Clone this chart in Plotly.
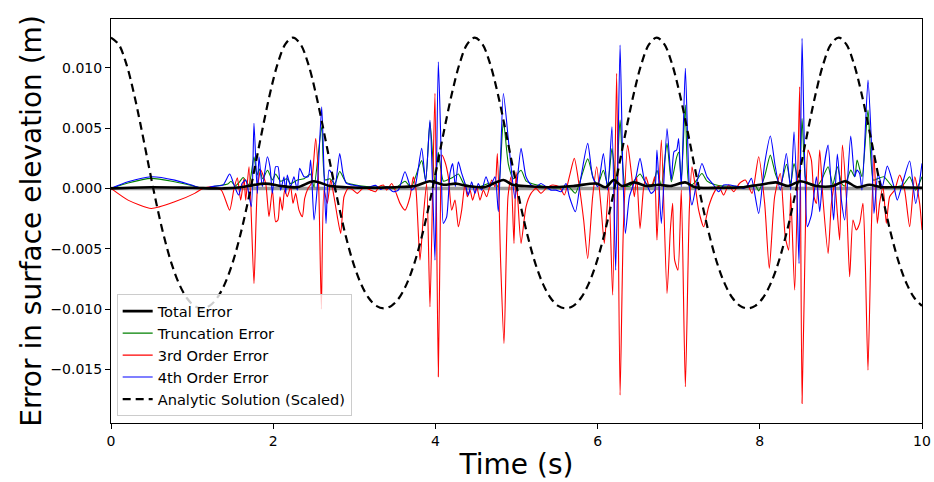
import numpy as np
import plotly.graph_objects as go

# ---------------- data ----------------
t_red = [0.000, 0.210, 0.497, 0.785, 1.032, 1.134, 1.237, 1.360, 1.463, 1.517, 1.558, 1.599, 1.640, 1.661, 1.702, 1.763, 1.804, 1.846, 1.907, 1.948, 1.990, 2.030, 2.059, 2.084, 2.113, 2.141, 2.174, 2.215, 2.244, 2.277, 2.318, 2.359, 2.388, 2.429, 2.470, 2.524, 2.561, 2.594, 2.626, 2.667, 2.709, 2.750, 2.791, 2.832, 2.873, 2.922, 2.976, 3.037, 3.120, 3.202, 3.263, 3.304, 3.358, 3.399, 3.461, 3.502, 3.564, 3.625, 3.687, 3.728, 3.761, 3.810, 3.851, 3.892, 3.933, 3.966, 3.995, 4.036, 4.061, 4.081, 4.118, 4.159, 4.201, 4.242, 4.283, 4.324, 4.365, 4.394, 4.427, 4.459, 4.509, 4.550, 4.591, 4.632, 4.694, 4.735, 4.764, 4.805, 4.846, 4.895, 4.932, 4.969, 4.994, 5.014, 5.056, 5.117, 5.179, 5.240, 5.302, 5.364, 5.446, 5.528, 5.590, 5.652, 5.713, 5.775, 5.828, 5.878, 5.939, 5.989, 6.042, 6.083, 6.137, 6.186, 6.235, 6.277, 6.317, 6.371, 6.412, 6.453, 6.482, 6.523, 6.564, 6.597, 6.638, 6.679, 6.704, 6.732, 6.786, 6.856, 6.897, 6.925, 6.950, 6.991, 7.032, 7.082, 7.131, 7.164, 7.205, 7.246, 7.308, 7.369, 7.431, 7.493, 7.554, 7.616, 7.678, 7.748, 7.822, 7.904, 7.986, 8.060, 8.117, 8.183, 8.253, 8.314, 8.356, 8.381, 8.430, 8.471, 8.492, 8.521, 8.562, 8.594, 8.636, 8.669, 8.698, 8.739, 8.780, 8.842, 8.883, 8.924, 8.956, 8.985, 9.018, 9.067, 9.108, 9.149, 9.190, 9.231, 9.272, 9.301, 9.334, 9.375, 9.408, 9.449, 9.477, 9.519, 9.560, 9.601, 9.663, 9.724, 9.786, 9.848, 9.910, 9.971, 10.000]
e_third = [0.0, -0.00097, -0.00166, -0.00111, -0.00041, 0.0, 0.00014, -0.00014, -0.00180, 0.0, 0.00088, -0.00097, 0.00083, -0.00097, 0.00180, -0.00787, -0.00014, 0.00152, 0.00041, -0.00235, -0.00014, -0.00276, -0.00262, -0.00069, -0.00180, -0.00014, -0.00069, 0.00014, -0.00124, -0.00041, -0.00180, -0.00235, -0.00083, 0.0, 0.00041, 0.00414, 0.00014, -0.01000, -0.00014, -0.00124, 0.00069, -0.00069, -0.00235, -0.00373, -0.00069, 0.0, -0.00008, -0.00041, 0.00008, -0.00014, -0.00028, 0.00014, 0.00028, -0.00014, 0.00041, -0.00014, -0.00124, -0.00180, -0.00069, 0.00097, -0.00014, -0.00594, -0.00235, 0.00041, -0.00981, -0.00014, 0.00787, -0.01561, -0.00235, 0.00276, 0.00221, 0.00097, -0.00180, -0.00097, -0.00318, -0.00180, 0.00041, -0.00069, -0.00014, -0.00097, 0.00014, -0.00097, -0.00014, -0.00069, 0.00069, 0.00014, 0.00290, -0.00622, -0.01285, -0.00069, 0.00097, -0.00456, 0.00138, -0.00069, -0.00456, -0.00152, -0.00041, 0.0, -0.00041, 0.0, 0.00028, 0.00014, -0.00055, 0.00097, 0.00249, 0.00014, -0.00262, -0.00580, -0.00069, 0.00180, -0.00152, -0.00456, 0.00014, -0.00884, 0.00953, -0.01713, -0.00345, 0.00359, 0.00152, -0.00069, 0.00097, -0.00332, -0.00014, 0.00097, 0.00014, 0.00041, 0.00097, -0.00428, 0.00401, -0.00870, -0.00345, -0.00124, -0.00594, -0.00677, -0.00014, -0.01644, -0.00180, 0.00180, 0.00014, -0.00180, -0.00318, -0.00152, -0.00041, 0.00019, -0.00055, 0.00028, -0.00028, 0.00041, 0.00069, -0.00041, 0.00262, -0.00124, -0.00663, -0.00069, 0.00124, -0.00401, -0.00511, -0.00041, -0.00843, 0.00207, 0.00843, -0.01782, -0.00345, 0.00318, 0.00235, -0.00069, -0.00124, 0.00318, -0.00097, -0.00539, -0.00124, 0.00041, -0.00207, -0.00428, 0.00359, -0.00069, -0.00732, -0.00262, -0.00345, -0.00290, -0.00124, -0.00622, -0.01506, -0.00345, 0.00276, -0.00290, -0.00124, 0.00014, -0.00290, -0.00069, -0.00014, 0.00111, -0.00014, -0.00318, 0.00097, -0.00124, -0.00345]

t_blue = [0.000, 0.210, 0.497, 0.785, 0.990, 1.134, 1.278, 1.381, 1.463, 1.525, 1.574, 1.615, 1.661, 1.730, 1.763, 1.804, 1.825, 1.866, 1.928, 1.960, 1.990, 2.030, 2.059, 2.092, 2.133, 2.154, 2.174, 2.215, 2.256, 2.297, 2.326, 2.380, 2.433, 2.462, 2.503, 2.544, 2.598, 2.626, 2.651, 2.688, 2.721, 2.758, 2.820, 2.861, 2.902, 2.976, 3.058, 3.161, 3.263, 3.325, 3.399, 3.481, 3.543, 3.625, 3.708, 3.749, 3.831, 3.880, 3.933, 3.966, 3.995, 4.036, 4.069, 4.098, 4.139, 4.180, 4.213, 4.246, 4.283, 4.324, 4.365, 4.406, 4.447, 4.488, 4.529, 4.571, 4.624, 4.673, 4.735, 4.776, 4.838, 4.900, 4.941, 4.982, 5.056, 5.117, 5.179, 5.240, 5.302, 5.364, 5.425, 5.487, 5.549, 5.610, 5.652, 5.726, 5.796, 5.878, 5.939, 6.001, 6.071, 6.124, 6.177, 6.223, 6.277, 6.309, 6.342, 6.392, 6.433, 6.474, 6.523, 6.577, 6.618, 6.659, 6.704, 6.732, 6.786, 6.856, 6.909, 6.942, 6.975, 6.999, 7.032, 7.082, 7.131, 7.164, 7.213, 7.287, 7.349, 7.431, 7.493, 7.554, 7.637, 7.698, 7.748, 7.801, 7.842, 7.896, 7.986, 8.060, 8.130, 8.191, 8.253, 8.327, 8.381, 8.422, 8.459, 8.484, 8.521, 8.554, 8.586, 8.636, 8.698, 8.739, 8.780, 8.842, 8.883, 8.911, 8.956, 9.006, 9.047, 9.121, 9.170, 9.198, 9.231, 9.260, 9.334, 9.375, 9.408, 9.457, 9.510, 9.572, 9.654, 9.695, 9.765, 9.848, 9.922, 10.000]
e_fourth = [0.0, 0.00055, 0.00097, 0.00069, 0.00028, 0.0, 0.00019, 0.00028, 0.00119, 0.00014, -0.00055, 0.00041, 0.00069, -0.00152, 0.00539, -0.00041, 0.00262, 0.00014, 0.00262, 0.00180, -0.00041, 0.00180, 0.00180, -0.00014, 0.00097, -0.00041, 0.00111, 0.00014, 0.00097, -0.00014, 0.00166, 0.00097, 0.00097, 0.00235, -0.00262, 0.00014, 0.00677, 0.00152, -0.00290, 0.00152, 0.00124, -0.00014, 0.00290, 0.00124, 0.00041, 0.00028, 0.00019, 0.00008, 0.00025, -0.00008, 0.00014, -0.00028, -0.00014, 0.00138, -0.00014, 0.00014, 0.00332, 0.00055, 0.00566, 0.00014, -0.00594, 0.01050, 0.00345, -0.00290, -0.00235, 0.00124, 0.00207, 0.00014, 0.00221, 0.00124, 0.00041, -0.00055, 0.00055, -0.00041, 0.00041, -0.00014, 0.00097, 0.00014, 0.00097, -0.00193, 0.00787, 0.00401, 0.00124, -0.00083, 0.00332, 0.00097, 0.00028, 0.00014, 0.00041, 0.00014, -0.00014, -0.00014, -0.00028, 0.00041, -0.00069, -0.00193, 0.00097, 0.00373, 0.00097, 0.00014, 0.00290, -0.00014, 0.00511, -0.00677, 0.01188, 0.00207, -0.00373, -0.00069, 0.00014, 0.00097, 0.00249, 0.00069, 0.00014, -0.00041, -0.00014, 0.00318, -0.00290, 0.00497, 0.00069, 0.00304, 0.00318, 0.00414, 0.00014, 0.00995, 0.00014, -0.00138, 0.00014, 0.00207, 0.00097, 0.00028, -0.00028, 0.00028, 0.00028, 0.00019, 0.00014, 0.0, 0.00019, 0.00083, -0.00207, 0.00207, 0.00434, 0.00180, -0.00014, 0.00290, -0.00014, 0.00470, -0.00069, -0.00622, 0.01243, 0.00207, -0.00318, -0.00221, 0.00097, -0.00193, 0.00124, 0.00359, -0.00014, -0.00262, 0.00285, -0.00097, -0.00262, 0.00434, 0.00097, 0.00152, 0.00124, -0.00014, 0.00898, 0.00401, -0.00207, 0.00124, 0.00014, 0.00185, 0.00014, -0.00097, 0.00055, 0.00227, -0.00124, 0.00207]

t_green = [0.000, 0.210, 0.497, 0.785, 0.990, 1.134, 1.300, 1.440, 1.480, 1.530, 1.580, 1.630, 1.700, 1.763, 1.800, 1.830, 1.870, 1.930, 1.990, 2.030, 2.090, 2.170, 2.215, 2.300, 2.380, 2.460, 2.503, 2.598, 2.640, 2.700, 2.760, 2.820, 2.900, 3.000, 3.150, 3.300, 3.400, 3.500, 3.625, 3.700, 3.830, 3.880, 3.933, 3.995, 4.036, 4.100, 4.180, 4.213, 4.283, 4.350, 4.450, 4.550, 4.650, 4.735, 4.776, 4.838, 4.900, 4.960, 5.056, 5.120, 5.240, 5.400, 5.550, 5.650, 5.726, 5.878, 5.950, 6.000, 6.071, 6.124, 6.177, 6.230, 6.277, 6.342, 6.400, 6.523, 6.600, 6.680, 6.732, 6.786, 6.856, 6.909, 6.975, 7.000, 7.032, 7.082, 7.131, 7.200, 7.287, 7.350, 7.450, 7.550, 7.650, 7.750, 7.850, 7.940, 7.986, 8.060, 8.130, 8.191, 8.253, 8.330, 8.381, 8.422, 8.484, 8.521, 8.560, 8.594, 8.698, 8.760, 8.842, 8.900, 8.956, 9.010, 9.047, 9.121, 9.170, 9.200, 9.260, 9.334, 9.400, 9.450, 9.530, 9.640, 9.765, 9.848, 9.920, 10.000]
e_trunc = [0.0, 0.00045, 0.00083, 0.00055, 0.00025, 0.0, 0.00020, 0.00036, 0.00060, 0.00020, 0.00050, 0.00091, 0.00030, 0.00262, 0.00110, 0.00160, 0.00080, 0.00150, 0.00070, 0.00120, 0.00060, 0.00080, 0.00040, 0.00070, 0.00080, 0.00120, 0.00010, 0.00510, 0.00070, 0.00080, 0.00040, 0.00140, 0.00050, 0.00030, 0.00015, 0.00010, 0.00015, 0.0, 0.00060, 0.00010, 0.00230, 0.00070, 0.00550, 0.00040, 0.00300, 0.00060, 0.00080, 0.00090, 0.00120, 0.00040, 0.00020, 0.00015, 0.00040, 0.00050, 0.00010, 0.00560, 0.00200, 0.00080, 0.00150, 0.00060, 0.00030, 0.00010, 0.00005, 0.00010, -0.00040, 0.00245, 0.00080, 0.00030, 0.00150, 0.00030, 0.00330, 0.00040, 0.00566, 0.00020, 0.00020, 0.00120, 0.00040, 0.00030, 0.00150, 0.00020, 0.00373, 0.00055, 0.00260, 0.00300, 0.00070, 0.00691, 0.00014, 0.00050, 0.00124, 0.00060, 0.00030, 0.00020, 0.00020, 0.00015, 0.00020, 0.00030, -0.00020, 0.00100, 0.00276, 0.00124, 0.00030, 0.00200, 0.00040, 0.00207, 0.00040, 0.00580, 0.00100, 0.00041, 0.00014, 0.00069, 0.00180, 0.00030, 0.00180, 0.00041, 0.00020, 0.00152, 0.00097, 0.00235, 0.00097, 0.00649, 0.00069, 0.00080, 0.00097, 0.00014, 0.00028, 0.00097, -0.00014, 0.00097]

t_total = [0.0, 0.5, 1.0, 1.4, 1.6, 1.9, 2.1, 2.3, 2.5, 2.7, 2.9, 3.2, 3.5, 3.75, 3.93, 4.1, 4.25, 4.4, 4.6, 4.84, 4.95, 5.1, 5.4, 5.7, 5.99, 6.1, 6.2, 6.3, 6.45, 6.6, 6.75, 6.9, 7.08, 7.2, 7.5, 7.8, 8.0, 8.2, 8.35, 8.5, 8.7, 8.9, 9.05, 9.2, 9.35, 9.5, 9.7, 10.0]
e_total = [0.0, 0.0001, 0.00005, 0.0, 0.0001, 0.0004, 0.0002, 0.0001, 0.0006, 0.0002, 0.0001, 0.00005, 0.0001, 0.0002, 0.0006, 0.0003, 0.0004, 0.0002, 0.0001, 0.0007, 0.0003, 0.0002, 0.0001, 0.0002, 0.0004, 0.0001, 0.0007, 0.0002, 0.0005, 0.0002, 0.0003, 0.0002, 0.0005, 0.0001, 0.00005, 0.0001, 0.0003, 0.0005, 0.0002, 0.0006, 0.0002, 0.0002, 0.0006, 0.0001, 0.0003, 0.0001, 0.0001, 0.00005]

# analytic surface elevation (scaled), sampled evenly over 0..10 s
analytic = [0.01250, 0.01195, 0.01036, 0.00793, 0.00497, 0.00180, -0.00128, -0.00401, -0.00625, -0.00793, -0.00908, -0.00973,
            -0.00994, -0.00973, -0.00908, -0.00793, -0.00625, -0.00401, -0.00128, 0.00180, 0.00497, 0.00793, 0.01036, 0.01195,
            0.01250, 0.01195, 0.01036, 0.00793, 0.00497, 0.00180, -0.00128, -0.00401, -0.00625, -0.00793, -0.00908, -0.00973,
            -0.00994, -0.00973, -0.00908, -0.00793, -0.00625, -0.00401, -0.00128, 0.00180, 0.00497, 0.00793, 0.01036, 0.01195,
            0.01250, 0.01195, 0.01036, 0.00793, 0.00497, 0.00180, -0.00128, -0.00401, -0.00625, -0.00793, -0.00908, -0.00973,
            -0.00994, -0.00973, -0.00908, -0.00793, -0.00625, -0.00401, -0.00128, 0.00180, 0.00497, 0.00793, 0.01036, 0.01195,
            0.01250, 0.01195, 0.01036, 0.00793, 0.00497, 0.00180, -0.00128, -0.00401, -0.00625, -0.00793, -0.00908, -0.00973,
            -0.00994, -0.00973, -0.00908, -0.00793, -0.00625, -0.00401, -0.00128, 0.00180, 0.00497, 0.00793, 0.01036, 0.01195,
            0.01250, 0.01195, 0.01036, 0.00793, 0.00497, 0.00180, -0.00128, -0.00401, -0.00625, -0.00793, -0.00908, -0.00973]
t_analytic = np.linspace(0, 10, len(analytic))

x_ticks = [0, 2, 4, 6, 8, 10]
y_ticks = [-0.015, -0.010, -0.005, 0.000, 0.005, 0.010]
y_ticktext = ["\u22120.015", "\u22120.010", "\u22120.005", "0.000", "0.005", "0.010"]

# ---------------- figure ----------------
FONT = "DejaVu Sans, Arial, sans-serif"
fig = go.Figure()

sm = 0.6
fig.add_trace(go.Scatter(x=t_green, y=e_trunc, mode="lines", name="Truncation Error",
                         line=dict(color="#008000", width=1.1, shape="spline", smoothing=sm), legendrank=2))
fig.add_trace(go.Scatter(x=t_red, y=e_third, mode="lines", name="3rd Order Error",
                         line=dict(color="#ff0000", width=1.1, shape="spline", smoothing=sm), legendrank=3))
fig.add_trace(go.Scatter(x=t_blue, y=e_fourth, mode="lines", name="4th Order Error",
                         line=dict(color="#0000ff", width=1.1, shape="spline", smoothing=sm), legendrank=4))
fig.add_trace(go.Scatter(x=t_total, y=e_total, mode="lines", name="Total Error",
                         line=dict(color="black", width=2.6, shape="spline", smoothing=0.8), legendrank=1))
fig.add_trace(go.Scatter(x=t_analytic, y=analytic, mode="lines", name="Analytic Solution (Scaled)",
                         line=dict(color="black", width=2.2, dash="8px,5px", shape="spline", smoothing=1.0), legendrank=5))

fig.add_hline(y=0, line=dict(color="rgba(120,120,120,0.75)", width=3.5), layer="below")

axis_common = dict(showgrid=False, zeroline=False, showline=True, linecolor="black", linewidth=1,
                   mirror=True, ticks="outside", ticklen=5, tickwidth=1, tickcolor="black",
                   tickfont=dict(family=FONT, size=14, color="black"))

fig.update_xaxes(range=[0, 10], tickvals=x_ticks, ticktext=[str(v) for v in x_ticks],
                 title=dict(text="Time (s)", font=dict(family=FONT, size=28, color="black"), standoff=6),
                 **axis_common)
fig.update_yaxes(range=[-0.01944, 0.01404], tickvals=y_ticks, ticktext=y_ticktext,
                 title=dict(text="Error in surface elevation (m)", font=dict(family=FONT, size=28, color="black"), standoff=0),
                 **axis_common)

fig.update_layout(
    width=934, height=482,
    margin=dict(l=111, r=12, t=19, b=59, autoexpand=False),
    paper_bgcolor="white", plot_bgcolor="white",
    font=dict(family=FONT, size=14, color="black"),
    legend=dict(x=0.007, y=0.017, xanchor="left", yanchor="bottom",
                bgcolor="rgba(255,255,255,0.8)", bordercolor="#cccccc", borderwidth=1,
                font=dict(family=FONT, size=14.6, color="black"), tracegroupgap=0,
                itemwidth=30),
    showlegend=True,
)

fig.write_html("out.html")
